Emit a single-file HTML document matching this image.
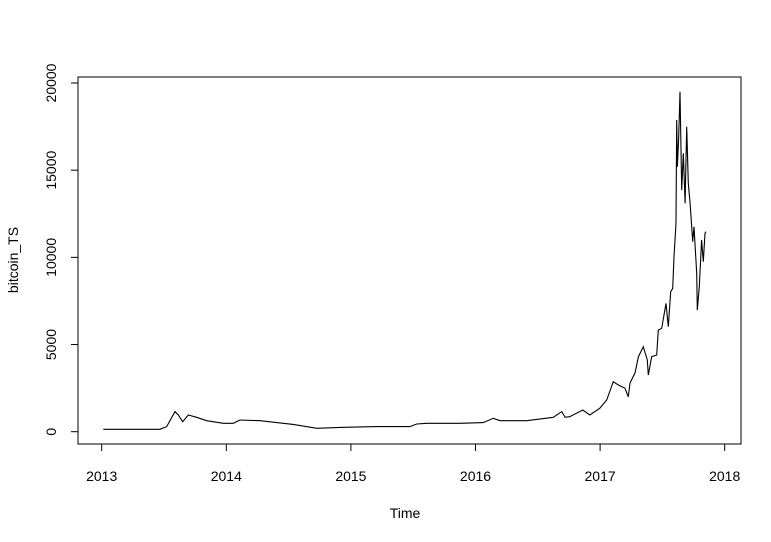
<!DOCTYPE html>
<html><head><meta charset="utf-8"><style>
body{margin:0;background:#fff}
svg{display:block;font-family:"Liberation Sans",Arial,sans-serif}
</style></head><body>
<svg id="chart" width="771" height="542" viewBox="0 0 771 542">
<rect x="78" y="77" width="663" height="367" fill="none" stroke="#000" stroke-width="1"/>
<g id="xaxis"></g>
<g id="yaxis"></g>
<path id="series" fill="none" stroke="#000" stroke-width="1.1"/>
<text x="405" y="518" font-size="14" text-anchor="middle">Time</text>
<text x="18" y="260" font-size="14" text-anchor="middle" transform="rotate(-90 18 260)">bitcoin_TS</text>
</svg>
<script>
const times=[2013.013,2013.468,2013.522,2013.588,2013.615,2013.650,2013.695,2013.762,2013.843,2013.976,2014.056,2014.110,2014.271,2014.538,2014.726,2014.939,2015.207,2015.474,2015.528,2015.608,2015.876,2016.063,2016.143,2016.197,2016.411,2016.624,2016.692,2016.719,2016.756,2016.861,2016.917,2016.997,2017.053,2017.106,2017.146,2017.199,2017.226,2017.240,2017.280,2017.307,2017.347,2017.379,2017.387,2017.414,2017.454,2017.467,2017.494,2017.529,2017.547,2017.567,2017.583,2017.593,2017.609,2017.615,2017.620,2017.631,2017.641,2017.655,2017.668,2017.682,2017.695,2017.708,2017.722,2017.735,2017.743,2017.754,2017.775,2017.780,2017.796,2017.815,2017.828,2017.842,2017.850];
const values=[140,140,290,1150,960,575,960,825,630,480,480,670,630,420,195,250,290,290,440,480,480,520,770,630,630,825,1150,825,860,1245,960,1340,1820,2870,2680,2500,2000,2790,3370,4300,4875,4110,3250,4300,4400,5830,5930,7360,6020,8030,8220,10040,11950,17880,15200,16920,19500,13860,15970,13100,17490,14250,13100,11760,10900,11760,9090,6980,8320,11000,9750,11380,11470];
const xTicks=[2013,2014,2015,2016,2017,2018];
const yTicks=[0,5000,10000,15000,20000];
const X=t=>101.7+(t-2013)*124.6;
const Y=v=>431.7-v*(431.7-83)/20000;
const NS='http://www.w3.org/2000/svg';
const xa=document.getElementById('xaxis'),ya=document.getElementById('yaxis');
function mk(tag,attrs,parent){const e=document.createElementNS(NS,tag);for(const k in attrs)e.setAttribute(k,attrs[k]);parent.appendChild(e);return e;}
mk('line',{x1:X(2013),x2:X(2018),y1:444,y2:444,stroke:'#000'},xa);
xTicks.forEach(t=>{
 const l=mk('line',{x1:X(t),x2:X(t),y1:444,y2:451,stroke:'#000'},xa);
 
 
 const tx=mk('text',{x:X(t),y:481,'font-size':14,'text-anchor':'middle'},xa);
 
 
 tx.textContent=t;
});
mk('line',{x1:78,x2:78,y1:Y(0),y2:Y(20000),stroke:'#000'},ya);
yTicks.forEach(v=>{
 const l=mk('line',{x1:71,x2:78,y1:Y(v),y2:Y(v),stroke:'#000'},ya);
 
 
 const tx=mk('text',{x:56,y:Y(v),'font-size':14,'text-anchor':'middle',transform:`rotate(-90 56 ${Y(v)})`},ya);
 
 
 tx.textContent=v;
});
document.getElementById('series').setAttribute('d',times.map((t,i)=>(i?'L':'M')+X(t).toFixed(1)+','+Y(values[i]).toFixed(1)).join(''));
</script>
</body></html>
